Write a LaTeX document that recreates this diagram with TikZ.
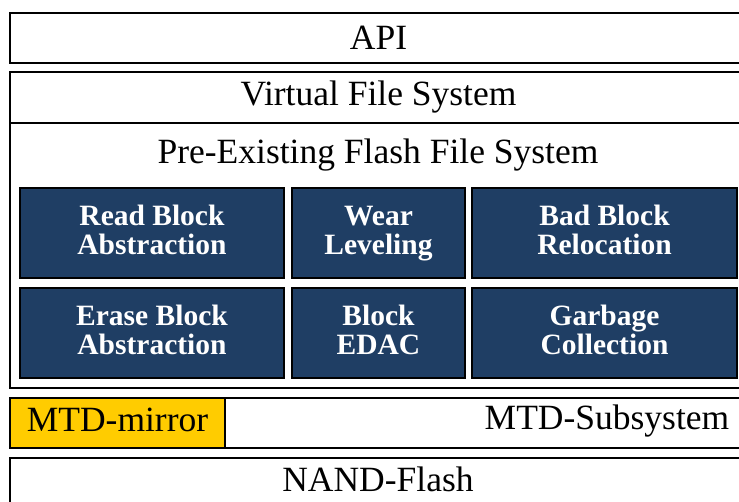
\documentclass[tikz,border=0pt]{standalone}
\usepackage{fontspec}
\setmainfont{Liberation Serif}
\definecolor{moduleblue}{RGB}{31,62,100}
\definecolor{mirroryellow}{RGB}{255,204,0}
\begin{document}
\begin{tikzpicture}[x=1pt, y=-1pt,
        layerbox/.style={rectangle, draw=black, line width=2.8pt, fill=white, inner sep=0pt, outer sep=0pt, anchor=north west, font=\fontsize{35.5}{40}\selectfont},
        modulebox/.style={rectangle, draw=black, line width=2.8pt, fill=moduleblue, text=white, inner sep=0pt, outer sep=0pt, anchor=north west, align=center, minimum height=90pt, text height=51pt, text depth=7pt, font=\fontsize{29.5}{29}\selectfont\bfseries},
        mirrorbox/.style={layerbox, fill=mirroryellow},
        layertext/.style={inner sep=0pt, font=\fontsize{35.5}{40}\selectfont},
    ]
        \clip (0,0) rectangle (739,502);
        \fill[white] (0,0) rectangle (739,502);

        %Nodes
        \node[layerbox, minimum width=737pt, minimum height=50pt] (api) at (10,13) {API};

        \node[layerbox, minimum width=737pt, minimum height=316pt] (vfsframe) at (10,72) {};
        \node[layerbox, minimum width=737pt, minimum height=51pt] (vfs) at (10,72) {Virtual File System};
        \node[layertext] (flashfs) at (378,155) {Pre-Existing Flash File System};

        \node[modulebox, minimum width=264pt] (readblock) at (20,188) {Read Block\\Abstraction};
        \node[modulebox, minimum width=173pt] (wear) at (292,188) {Wear\\Leveling};
        \node[modulebox, minimum width=265pt] (badblock) at (472,188) {Bad Block\\Relocation};

        \node[modulebox, minimum width=264pt] (eraseblock) at (20,288) {Erase Block\\Abstraction};
        \node[modulebox, minimum width=173pt] (edac) at (292,288) {Block\\EDAC};
        \node[modulebox, minimum width=265pt] (garbage) at (472,288) {Garbage\\Collection};

        \node[layerbox, minimum width=737pt, minimum height=50pt] (mtd) at (10,398) {};
        \node[mirrorbox, minimum width=215pt, minimum height=50pt, text depth=7pt] (mirror) at (10,398) {MTD-mirror};
        \node[layertext] (mtdlabel) at (607,421) {MTD-Subsystem};

        \node[layerbox, minimum width=737pt, minimum height=70pt] (nand) at (10,458) {};
        \node[layertext] (nandlabel) at (378,479) {NAND-Flash};
    \end{tikzpicture}
\end{document}
